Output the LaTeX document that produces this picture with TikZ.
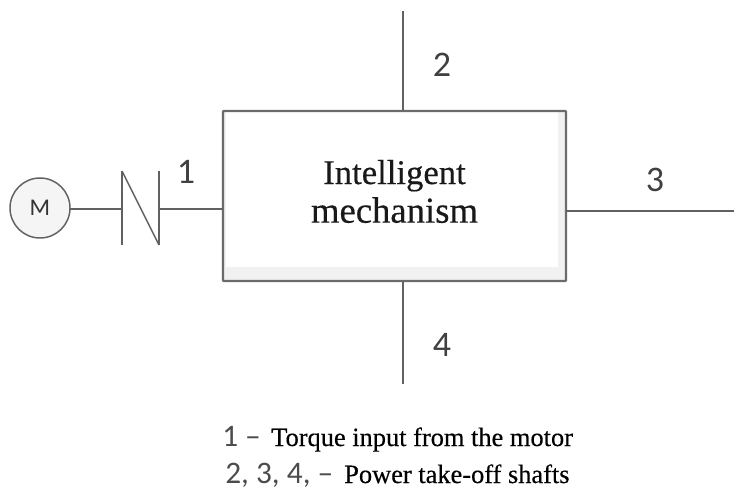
\documentclass[tikz,border=0pt]{standalone}
\usepackage{fontspec}
\setmainfont{Liberation Serif}
\newfontfamily\sansf{Carlito}
\newfontfamily\heavyf[FakeBold=0.35]{Liberation Serif}
\definecolor{linegray}{gray}{0.38}
\definecolor{boxgray}{gray}{0.42}
\definecolor{bandgray}{gray}{0.945}
\definecolor{motorfill}{gray}{0.96}
\tikzset{
  wire/.style={draw=linegray,line width=1.05pt},
  mainbox/.style={draw=boxgray,line width=1.6pt,rounded corners=0.5pt},
  numlabel/.style={font=\sansf\fontsize{27}{27}\selectfont,text=black!75,inner sep=0pt,anchor=center},
  boxtext/.style={font=\heavyf\fontsize{26}{29}\selectfont,text=black!90,inner sep=0pt,align=center,anchor=center},
  captionnum/.style={font=\sansf\fontsize{23.5}{23.5}\selectfont,text=black!70,inner sep=0pt,anchor=base west},
  captiontext/.style={font=\heavyf\fontsize{19.8}{21}\selectfont,text=black,inner sep=0pt,anchor=base west},
  motornode/.style={circle,draw=linegray,line width=1.1pt,fill=motorfill,minimum size=45pt,inner sep=0pt,outer sep=0pt,font=\sansf\fontsize{18}{18}\selectfont,text=black!80}
}
\begin{document}
\begin{tikzpicture}[x=0.75pt,y=-0.75pt]
\useasboundingbox (0,0) rectangle (734,489);
% main box with its pale inner band
\fill[bandgray] (223,111) rectangle (566,281);
\fill[white] (226,111) rectangle (558,267);
\node[minimum width=257.25pt,minimum height=127.5pt,inner sep=0pt,outer sep=0pt,mainbox,rectangle] (box) at (394.5,196) {};
\node[boxtext] (boxlabel) at (394.5,191.5) {Intelligent\\{\fontsize{27.5}{29}\selectfont mechanism}};
% motor and contact
\node[motornode] (motor) at (40,208) {M};
\coordinate (ca) at (122,209);
\coordinate (cb) at (159,209);
\coordinate (catop) at (122,171);
\coordinate (cabot) at (122,245);
\coordinate (cbtop) at (159,171);
\coordinate (cbbot) at (159,245);
\coordinate (boxw) at (box.west |- ca);
\draw[wire] (motor.east |- ca) -- (ca);
\draw[wire] (catop) -- (cabot);
\draw[wire] (cbtop) -- (cbbot);
\draw[wire] (catop) -- (cbbot);
\draw[wire] (cb) -- (boxw);
% output shafts
\coordinate (topend) at (403,11);
\coordinate (rightend) at (734,211);
\coordinate (botend) at (403,384);
\draw[wire] (box.north -| topend) -- (topend);
\draw[wire] (box.east |- rightend) -- (rightend);
\draw[wire] (box.south -| botend) -- (botend);
% numbers
\node[numlabel] (n1) at (186,172) {1};
\node[numlabel] (n2) at (442,65) {2};
\node[numlabel] (n3) at (655,180) {3};
\node[numlabel] (n4) at (442,345) {4};
% caption
\node[captionnum] (c1) at (222,446) {1 –};
\node[captiontext] (c1t) at (271,446) {Torque input from the motor};
\node[captionnum] (c2) at (225,483) {2, 3, 4, –};
\node[captiontext] (c2t) at (344,483) {Power take-off shafts};
\end{tikzpicture}
\end{document}
